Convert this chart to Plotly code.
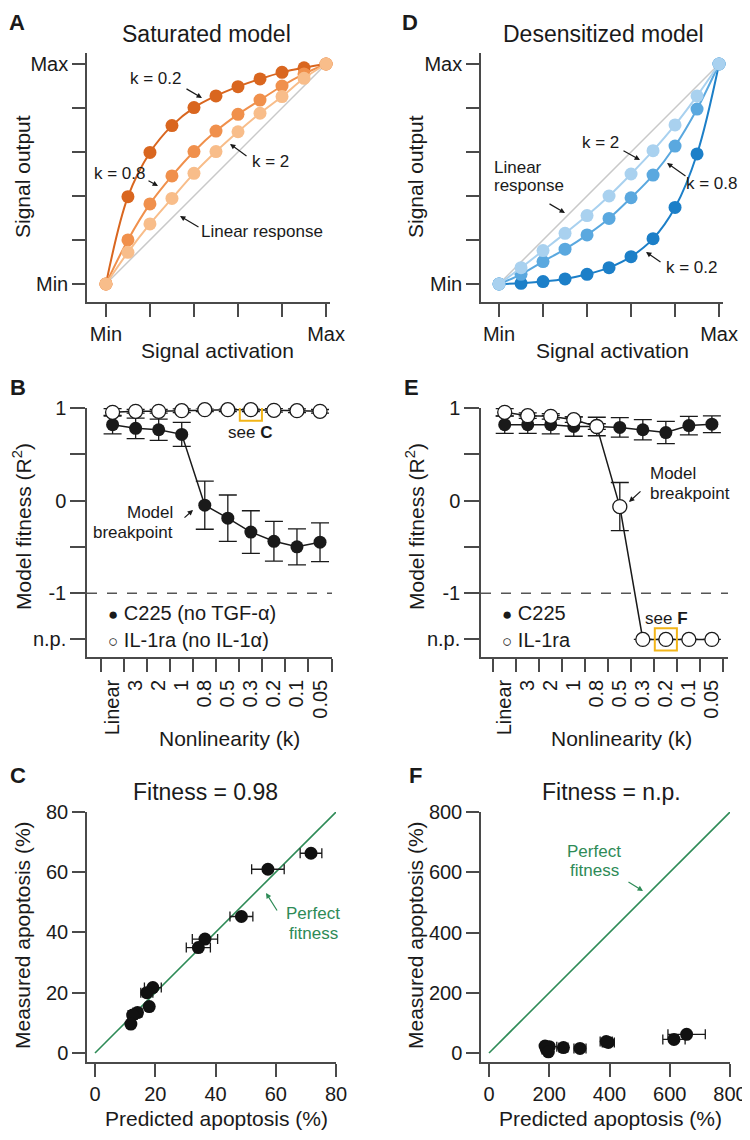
import plotly.graph_objects as go

W, H = 750, 1140
OFF = 8  # page body margin compensation (pixels)
FONT = "Liberation Sans, Arial, Helvetica, sans-serif"
INK = "#1a1a1a"
AXC = "#4a4a4a"
GREEN = "#2e8b57"
BOX = "#f2b519"

# ---------------- data ----------------
activation = [0.0, 0.1, 0.2, 0.3, 0.4, 0.5, 0.6, 0.7, 0.8, 0.9, 1.0]
sat_k02 = [0.0, 0.397, 0.598, 0.720, 0.802, 0.855, 0.897, 0.932, 0.962, 0.983, 1.0]
sat_k08 = [0.0, 0.200, 0.364, 0.491, 0.602, 0.695, 0.771, 0.836, 0.900, 0.955, 1.0]
sat_k2 = [0.0, 0.144, 0.273, 0.389, 0.503, 0.602, 0.692, 0.776, 0.852, 0.935, 1.0]
des_k2 = [0.0, 0.074, 0.152, 0.230, 0.311, 0.400, 0.500, 0.606, 0.723, 0.855, 1.0]
des_k08 = [0.0, 0.044, 0.102, 0.158, 0.223, 0.298, 0.392, 0.495, 0.627, 0.795, 1.0]
des_k02 = [0.0, 0.003, 0.011, 0.023, 0.044, 0.074, 0.124, 0.206, 0.348, 0.591, 1.0]
minmax_ticks = [0.0, 1.0]
minmax_text = ["Min", "Max"]
minmax_minor = [0.2, 0.4, 0.6, 0.8]

nonlin_labels = ["Linear", "3", "2", "1", "0.8", "0.5", "0.3", "0.2", "0.1", "0.05"]
NP = -1.5
fit_ticks = [1, 0, -1, NP]
fit_text = ["1", "0", "-1", "n.p."]
fit_minor = [0.5, -0.5]

b_c225 = [0.82, 0.78, 0.765, 0.715, -0.05, -0.19, -0.34, -0.44, -0.50, -0.45]
b_c225_err = [0.10, 0.11, 0.115, 0.13, 0.26, 0.25, 0.23, 0.215, 0.195, 0.21]
b_il1ra = [0.953, 0.964, 0.964, 0.971, 0.982, 0.982, 0.982, 0.975, 0.971, 0.964]
b_il1ra_err = [0.04, 0.02, 0.02, 0.02, 0.02, 0.02, 0.02, 0.02, 0.02, 0.02]
b_highlight = 6

e_c225 = [0.82, 0.82, 0.82, 0.80, 0.80, 0.79, 0.765, 0.735, 0.81, 0.825]
e_c225_err = [0.095, 0.095, 0.10, 0.105, 0.10, 0.105, 0.11, 0.12, 0.10, 0.09]
e_il1ra = [0.953, 0.917, 0.91, 0.874, 0.80, -0.065, NP, NP, NP, NP]
e_il1ra_err = [0.04, 0.03, 0.03, 0.03, 0.03, 0.26, 0, 0, 0, 0]
e_highlight = 7

c_pred = [71.7, 57.4, 48.6, 36.5, 34.3, 19.2, 17.2, 18.0, 14.1, 12.5, 11.9]
c_meas = [66.3, 61.0, 45.3, 37.8, 35.0, 21.7, 20.0, 15.4, 13.4, 12.6, 9.6]
c_err = [3.6, 5.4, 3.8, 4.2, 4.0, 2.8, 2.0, 0.0, 1.5, 1.5, 0.0]
c_ticks = [0, 20, 40, 60, 80]

f_pred = [656, 614, 396, 389, 302, 247, 200, 191, 186, 197]
f_meas = [62, 45, 35, 38, 15, 18, 21, 12, 23, 4]
f_err = [62, 37, 20, 20, 20, 15, 25, 15, 10, 10]
f_ticks = [0, 200, 400, 600, 800]

# ---------------- helpers ----------------
def dom_x(a, b):
    return [(a - OFF) / W, (b - OFF) / W]

def dom_y(top, bottom):
    return [1 - (bottom - OFF) / H, 1 - (top - OFF) / H]

def axis(domain, rng, tickvals, ticktext, anchor, ticklen=13, angle=0, minor_vals=None):
    d = dict(domain=domain, range=rng, tickmode="array", tickvals=tickvals, ticktext=ticktext,
             showline=True, linecolor=AXC, linewidth=1.5, ticks="outside", ticklen=ticklen,
             tickwidth=1.5, tickcolor=AXC, showgrid=False, zeroline=False, anchor=anchor,
             automargin=False,
             tickfont=dict(family=FONT, size=20, color=INK), tickangle=angle, fixedrange=True)
    if minor_vals is not None:
        d["minor"] = dict(tickmode="array", tickvals=minor_vals, ticks="outside", ticklen=ticklen,
                          tickwidth=1.5, tickcolor=AXC, showgrid=False)
    return d

def P(px, py):
    return (px - OFF) / W, 1 - (py - OFF) / H

annotations = []

def txt(px, py, text, size=17, color=INK, xanchor="center", angle=0):
    x, y = P(px, py)
    annotations.append(dict(x=x, y=y, xref="paper", yref="paper", text=text, showarrow=False,
                            font=dict(family=FONT, size=size, color=color), xanchor=xanchor,
                            yanchor="middle", textangle=angle))

def arrow(tx, ty, hx, hy, color=INK):
    x, y = P(hx, hy)
    annotations.append(dict(x=x, y=y, xref="paper", yref="paper", ax=tx - hx, ay=ty - hy,
                            axref="pixel", ayref="pixel", text="", showarrow=True,
                            arrowhead=2, arrowsize=0.9, arrowwidth=1.2, arrowcolor=color))

fig = go.Figure()

# ---------------- Panel A ----------------
fig.add_trace(go.Scatter(x=[0, 1], y=[0, 1], mode="lines", line=dict(color="#c9c9c9", width=1.5),
                         xaxis="x", yaxis="y", showlegend=False, cliponaxis=False))
for ys, col in [(sat_k02, "#d9661f"), (sat_k08, "#f0904c"), (sat_k2, "#f8bd8a")]:
    fig.add_trace(go.Scatter(x=activation, y=ys, mode="lines+markers", line=dict(color=col, width=2, shape="spline"),
                             marker=dict(color=col, size=13), xaxis="x", yaxis="y", showlegend=False, cliponaxis=False))

# ---------------- Panel D ----------------
fig.add_trace(go.Scatter(x=[0, 1], y=[0, 1], mode="lines", line=dict(color="#c9c9c9", width=1.5),
                         xaxis="x2", yaxis="y2", showlegend=False, cliponaxis=False))
for ys, col in [(des_k02, "#1c7fc8"), (des_k08, "#5aa8df"), (des_k2, "#a9d1ef")]:
    fig.add_trace(go.Scatter(x=activation, y=ys, mode="lines+markers", line=dict(color=col, width=2, shape="spline"),
                             marker=dict(color=col, size=13), xaxis="x2", yaxis="y2", showlegend=False, cliponaxis=False))

cat_x = list(range(len(nonlin_labels)))

def fitness_panel(xa, ya, filled, filled_err, opened, opened_err):
    fig.add_trace(go.Scatter(x=cat_x, y=filled, mode="lines+markers", line=dict(color=INK, width=1.5),
                             marker=dict(color=INK, size=13),
                             error_y=dict(type="data", array=filled_err, color=INK, thickness=1.3, width=9),
                             xaxis=xa, yaxis=ya, showlegend=False, cliponaxis=False))
    fig.add_trace(go.Scatter(x=cat_x, y=opened, mode="lines+markers", line=dict(color=INK, width=1.5),
                             marker=dict(color="white", size=14, line=dict(color=INK, width=1.3)),
                             error_y=dict(type="data", array=opened_err, color=INK, thickness=1.3, width=9),
                             xaxis=xa, yaxis=ya, showlegend=False, cliponaxis=False))

fitness_panel("x3", "y3", b_c225, b_c225_err, b_il1ra, b_il1ra_err)
fitness_panel("x4", "y4", e_c225, e_c225_err, e_il1ra, e_il1ra_err)

# ---------------- Panel C ----------------
fig.add_trace(go.Scatter(x=[0, 80], y=[0, 80], mode="lines", line=dict(color=GREEN, width=1.6),
                         xaxis="x5", yaxis="y5", showlegend=False, cliponaxis=False))
fig.add_trace(go.Scatter(x=c_pred, y=c_meas, mode="markers", marker=dict(color="#111", size=13),
                         error_x=dict(type="data", array=c_err, color=INK, thickness=1.3, width=5),
                         xaxis="x5", yaxis="y5", showlegend=False, cliponaxis=False))

# ---------------- Panel F ----------------
fig.add_trace(go.Scatter(x=[0, 800], y=[0, 800], mode="lines", line=dict(color=GREEN, width=1.6),
                         xaxis="x6", yaxis="y6", showlegend=False, cliponaxis=False))
fig.add_trace(go.Scatter(x=f_pred, y=f_meas, mode="markers", marker=dict(color="#111", size=13),
                         error_x=dict(type="data", array=f_err, color=INK, thickness=1.3, width=5),
                         xaxis="x6", yaxis="y6", showlegend=False, cliponaxis=False))

# ---------------- axes ----------------
bound_ticks = [i - 0.5 for i in range(len(nonlin_labels) + 1)]

layout_axes = dict(
    xaxis=axis(dom_x(87, 330), [-0.086, 1.018], minmax_ticks, minmax_text, "y", minor_vals=minmax_minor),
    yaxis=axis(dom_y(53, 302), [-0.082, 1.05], minmax_ticks, minmax_text, "x", minor_vals=minmax_minor),
    xaxis2=axis(dom_x(481, 723), [-0.082, 1.018], minmax_ticks, minmax_text, "y2", minor_vals=minmax_minor),
    yaxis2=axis(dom_y(53, 302), [-0.082, 1.05], minmax_ticks, minmax_text, "x2", minor_vals=minmax_minor),
    xaxis3=axis(dom_x(87, 332), [-1.11, 9.52], cat_x, nonlin_labels, "y3", angle=-90, minor_vals=bound_ticks),
    yaxis3=axis(dom_y(408, 657), [-1.69, 1.0], fit_ticks, fit_text, "x3", ticklen=15, minor_vals=fit_minor),
    xaxis4=axis(dom_x(481, 728), [-1.03, 9.7], cat_x, nonlin_labels, "y4", angle=-90, minor_vals=bound_ticks),
    yaxis4=axis(dom_y(408, 657), [-1.69, 1.0], fit_ticks, fit_text, "x4", ticklen=15, minor_vals=fit_minor),
    xaxis5=axis(dom_x(87, 336), [-2.66, 80], c_ticks, [str(v) for v in c_ticks], "y5"),
    yaxis5=axis(dom_y(812, 1062), [-3.0, 80], c_ticks, [str(v) for v in c_ticks], "x5"),
    xaxis6=axis(dom_x(481, 730), [-26.6, 800], f_ticks, [str(v) for v in f_ticks], "y6"),
    yaxis6=axis(dom_y(812, 1062), [-29.9, 800], f_ticks, [str(v) for v in f_ticks], "x6"),
)
for k in ("xaxis3", "xaxis4"):
    layout_axes[k]["tickcolor"] = "rgba(0,0,0,0)"

# ---------------- shapes ----------------
shapes = []
for xa, ya in (("x3", "y3"), ("x4", "y4")):
    shapes.append(dict(type="line", xref=xa + " domain", yref=ya, x0=0, x1=1, y0=-1, y1=-1,
                       line=dict(color="#555", width=1.5, dash="10px,10px")))
shapes.append(dict(type="rect", xref="x3", yref="y3", x0=b_highlight - 0.48, x1=b_highlight + 0.48,
                   y0=b_il1ra[b_highlight] - 0.12, y1=b_il1ra[b_highlight] + 0.12,
                   line=dict(color=BOX, width=2)))
shapes.append(dict(type="rect", xref="x4", yref="y4", x0=e_highlight - 0.48, x1=e_highlight + 0.48,
                   y0=e_il1ra[e_highlight] - 0.12, y1=e_il1ra[e_highlight] + 0.12,
                   line=dict(color=BOX, width=2)))

# ---------------- text ----------------
for px, py, t in [(17, 22, "A"), (410, 22, "D"), (18, 387, "B"), (412, 387, "E"), (18, 775, "C"), (415, 775, "F")]:
    txt(px, py, "<b>%s</b>" % t, size=22)

txt(206, 34, "Saturated model", size=23)
txt(603, 34, "Desensitized model", size=23)
txt(205, 792, "Fitness = 0.98", size=23)
txt(611, 792, "Fitness = n.p.", size=23)

for px in (217, 612):
    txt(px, 350, "Signal activation", size=21)
for px in (229, 621):
    txt(px, 738, "Nonlinearity (k)", size=21)
for px in (216, 610):
    txt(px, 1118, "Predicted apoptosis (%)", size=21)
for px in (22, 415):
    txt(px, 177, "Signal output", size=21, angle=-90)
    txt(px, 527, "Model fitness (R<sup>2</sup>)", size=21, angle=-90)
    txt(px, 935, "Measured apoptosis (%)", size=21, angle=-90)

# panel A notes
txt(156, 79, "k = 0.2"); arrow(185, 88, 202, 98)
txt(120, 173, "k = 0.8"); arrow(147, 180, 158, 186)
txt(270, 162, "k = 2"); arrow(248, 157, 230, 144)
txt(262, 232, "Linear response"); arrow(200, 228, 180, 216)
# panel D notes
txt(600, 142, "k = 2"); arrow(622, 150, 640, 160)
txt(492, 167, "Linear", xanchor="left"); txt(492, 185, "response", xanchor="left"); arrow(548, 203, 565, 213)
txt(712, 183, "k = 0.8"); arrow(687, 177, 667, 163)
txt(692, 267, "k = 0.2"); arrow(662, 263, 646, 252)
# panel B notes
txt(175, 513, "Model", xanchor="right"); txt(175, 532, "breakpoint", xanchor="right"); arrow(183, 519, 193, 510)
txt(250, 432, "see <b>C</b>")
txt(106, 613, "<span style='font-size:17px'>●</span> C225 (no TGF-α)", size=20, xanchor="left")
txt(106, 640, "<span style='font-size:17px'>○</span> IL-1ra (no IL-1α)", size=20, xanchor="left")
# panel E notes
txt(648, 473, "Model", xanchor="left"); txt(648, 493, "breakpoint", xanchor="left"); arrow(642, 490, 629, 502)
txt(666, 618, "see <b>F</b>")
txt(500, 613, "<span style='font-size:17px'>●</span> C225", size=20, xanchor="left")
txt(500, 640, "<span style='font-size:17px'>○</span> IL-1ra", size=20, xanchor="left")
# panel C / F notes
txt(313, 913, "Perfect", color=GREEN); txt(313, 933, "fitness", color=GREEN); arrow(278, 912, 266, 893, GREEN)
txt(594, 851, "Perfect", color=GREEN); txt(594, 870, "fitness", color=GREEN); arrow(627, 881, 643, 891, GREEN)

fig.update_layout(width=W, height=H, margin=dict(l=0, r=0, t=0, b=0, pad=0, autoexpand=False),
                  paper_bgcolor="white", plot_bgcolor="white", showlegend=False,
                  annotations=annotations, shapes=shapes,
                  font=dict(family=FONT, color=INK), **layout_axes)

fig.write_html("out.html")
